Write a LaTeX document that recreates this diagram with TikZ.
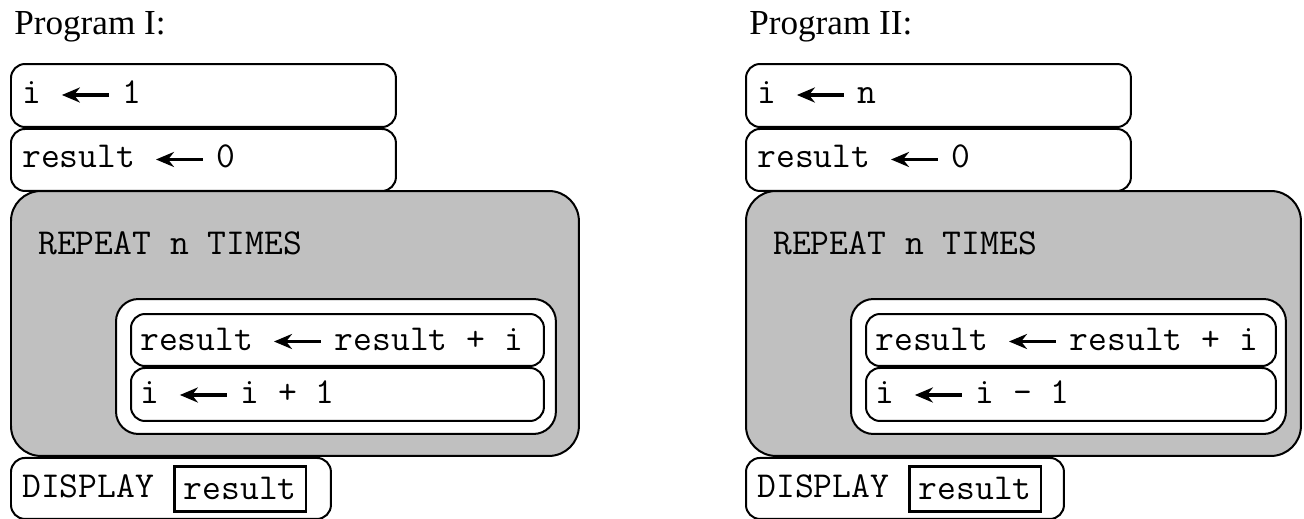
\documentclass[tikz,border=0pt]{standalone}
\usepackage{fontspec}
\setmainfont{Liberation Serif}
\usepackage{tikz}
\usetikzlibrary{positioning,arrows.meta}
\definecolor{LoopGray}{RGB}{192,192,192}

% assignment arrow inside the code lines
\newcommand{\getsarrow}{\tikz[x=1cm,y=1cm,baseline={(0,-0.17cm)}]\draw[line width=0.075cm,-{Stealth[length=0.36cm,width=0.3cm]}] (0.94,0) -- (0,0);\hspace{0.24cm}}

\begin{document}
\begin{tikzpicture}[
    x=0.02cm, y=-0.02cm,
    stmt/.style={draw, line width=0.04cm, rounded corners=0.28cm, fill=white, inner sep=0pt},
    loopbox/.style={stmt, fill=LoopGray, rounded corners=0.6cm},
    bodybox/.style={stmt, rounded corners=0.45cm},
    code/.style={font=\fontsize{20.8}{24}\selectfont\ttfamily, inner sep=0pt, anchor=base west},
    varbox/.style={draw, line width=0.05cm, inner sep=0pt, minimum width=2.64cm, minimum height=0.9cm, font=\fontsize{20.8}{24}\selectfont\ttfamily},
    title/.style={font=\fontsize{20}{24}\selectfont, inner sep=0pt, anchor=base west}
]
\useasboundingbox (0,0) rectangle (1304,518);

% Program I
\node[title] (titleA) at (14,34) {Program I:};
\node[stmt, anchor=north west, minimum width=7.7cm, minimum height=1.26cm] (initA) at (10,63) {};
\node[stmt, below=0cm of initA, minimum width=7.7cm, minimum height=1.24cm] (zeroA) {};
\node[loopbox, anchor=north west, minimum width=11.36cm, minimum height=5.3cm] (repA) at (10,190) {};
\node[bodybox, anchor=north west, minimum width=8.8cm, minimum height=2.7cm] (bodyA) at (115,298) {};
\node[stmt, anchor=north west, minimum width=8.26cm, minimum height=1.04cm] (addA) at (130,313) {};
\node[stmt, below=0cm of addA, minimum width=8.26cm, minimum height=1.06cm] (stepA) {};
\node[stmt, below right=0cm and 0cm of repA.south west, anchor=north west, minimum width=6.4cm, minimum height=1.22cm] (dispA) {};

\node[code] (initAt) at ([xshift=0.24cm,yshift=-0.16cm]initA.west) {i \getsarrow 1};
\node[code] (zeroAt) at ([xshift=0.24cm,yshift=-0.16cm]zeroA.west) {result \getsarrow 0};
\node[code] (repAt) at ([xshift=0.56cm,yshift=-1.3cm]repA.north west) {REPEAT n TIMES};
\node[code] (addAt) at ([xshift=0.2cm,yshift=-0.2cm]addA.west) {result \getsarrow result + i};
\node[code] (stepAt) at ([xshift=0.2cm,yshift=-0.18cm]stepA.west) {i \getsarrow i + 1};
\node[code] (dispAt) at ([xshift=0.24cm,yshift=-0.18cm]dispA.west) {DISPLAY};
\node[varbox, anchor=north west] (varA) at (173,465) {result};

% Program II
\node[title] (titleB) at (749,34) {Program II:};
\node[stmt, anchor=north west, minimum width=7.7cm, minimum height=1.26cm] (initB) at (745,63) {};
\node[stmt, below=0cm of initB, minimum width=7.7cm, minimum height=1.24cm] (zeroB) {};
\node[loopbox, anchor=north west, minimum width=11.1cm, minimum height=5.3cm] (repB) at (745,190) {};
\node[bodybox, anchor=north west, minimum width=8.7cm, minimum height=2.7cm] (bodyB) at (850,298) {};
\node[stmt, anchor=north west, minimum width=8.2cm, minimum height=1.04cm] (addB) at (865,313) {};
\node[stmt, below=0cm of addB, minimum width=8.2cm, minimum height=1.06cm] (stepB) {};
\node[stmt, below right=0cm and 0cm of repB.south west, anchor=north west, minimum width=6.36cm, minimum height=1.22cm] (dispB) {};

\node[code] (initBt) at ([xshift=0.24cm,yshift=-0.16cm]initB.west) {i \getsarrow n};
\node[code] (zeroBt) at ([xshift=0.24cm,yshift=-0.16cm]zeroB.west) {result \getsarrow 0};
\node[code] (repBt) at ([xshift=0.56cm,yshift=-1.3cm]repB.north west) {REPEAT n TIMES};
\node[code] (addBt) at ([xshift=0.2cm,yshift=-0.2cm]addB.west) {result \getsarrow result + i};
\node[code] (stepBt) at ([xshift=0.2cm,yshift=-0.18cm]stepB.west) {i \getsarrow i - 1};
\node[code] (dispBt) at ([xshift=0.24cm,yshift=-0.18cm]dispB.west) {DISPLAY};
\node[varbox, anchor=north west] (varB) at (908,465) {result};
\end{tikzpicture}
\end{document}
